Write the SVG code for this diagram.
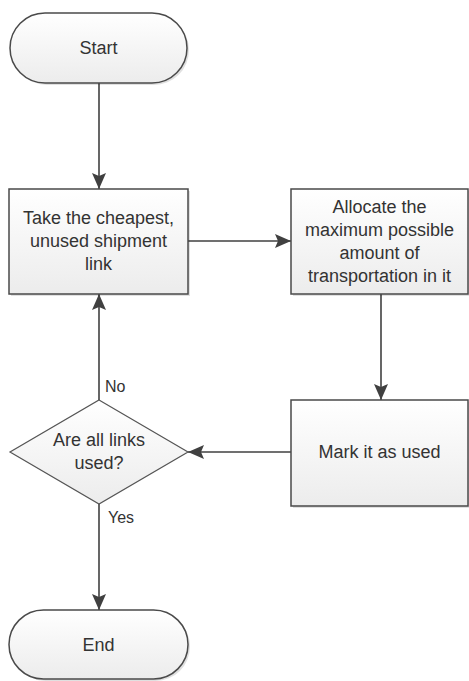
<svg xmlns="http://www.w3.org/2000/svg" width="469" height="681" viewBox="0 0 469 681">
<style>
.shape{stroke:#4a4a4a;stroke-width:1.5;fill:url(#g)}
.shadow{fill:#000;opacity:0.12}
.t{font-family:"Liberation Sans",Arial,sans-serif;font-size:18px;fill:#333;text-anchor:middle}
.lbl{font-family:"Liberation Sans",Arial,sans-serif;font-size:16px;fill:#333}
.c{stroke:#404040;stroke-width:1.6;fill:none;marker-end:url(#ah)}
</style>
<defs>
<linearGradient id="g" x1="0" y1="0" x2="0" y2="1">
<stop offset="0" stop-color="#ffffff"/>
<stop offset="1" stop-color="#ececec"/>
</linearGradient>
<marker id="ah" viewBox="0 0 16 14" refX="16" refY="7" markerWidth="16" markerHeight="14" markerUnits="userSpaceOnUse" orient="auto">
<path d="M0,0 L16,7 L0,14 L3,7 Z" fill="#404040"/>
</marker>
</defs>
<g id="connectors">
<line class="c" x1="99" y1="83" x2="99" y2="189"/>
<line class="c" x1="188" y1="241" x2="291" y2="241"/>
<line class="c" x1="381" y1="294" x2="381" y2="400"/>
<line class="c" x1="291" y1="452" x2="188" y2="452"/>
<line class="c" x1="99" y1="400" x2="99" y2="294"/>
<line class="c" x1="99" y1="504" x2="99" y2="610"/>
</g>
<g id="start">
<rect class="shadow" x="12" y="15" width="177" height="70" rx="35"/>
<rect class="shape" x="10" y="13" width="177" height="70" rx="35"/>
<text class="t" x="98.5" y="54">Start</text>
</g>
<g id="take">
<rect class="shadow" x="11" y="191" width="179" height="105"/>
<rect class="shape" x="9" y="189" width="179" height="105"/>
<text class="t" x="98.5" y="224">Take the cheapest,</text>
<text class="t" x="98.5" y="247">unused shipment</text>
<text class="t" x="98.5" y="270">link</text>
</g>
<g id="allocate">
<rect class="shadow" x="293" y="191" width="177" height="105"/>
<rect class="shape" x="291" y="189" width="177" height="105"/>
<text class="t" x="379.5" y="213">Allocate the</text>
<text class="t" x="379.5" y="236">maximum possible</text>
<text class="t" x="379.5" y="259">amount of</text>
<text class="t" x="379.5" y="282">transportation in it</text>
</g>
<g id="mark">
<rect class="shadow" x="293" y="402" width="177" height="106"/>
<rect class="shape" x="291" y="400" width="177" height="106"/>
<text class="t" x="379.5" y="458">Mark it as used</text>
</g>
<g id="decision">
<polygon class="shape" style="stroke-width:1.2;stroke:#555" points="99,400 188,452 99,504 10,452"/>
<text class="t" x="99" y="446">Are all links</text>
<text class="t" x="99" y="469">used?</text>
<text class="lbl" x="105" y="392">No</text>
<text class="lbl" x="108" y="523">Yes</text>
</g>
<g id="end">
<rect class="shadow" x="11" y="612" width="179" height="69" rx="34.5"/>
<rect class="shape" x="9" y="610" width="179" height="69" rx="34.5"/>
<text class="t" x="98.5" y="651">End</text>
</g>
</svg>
